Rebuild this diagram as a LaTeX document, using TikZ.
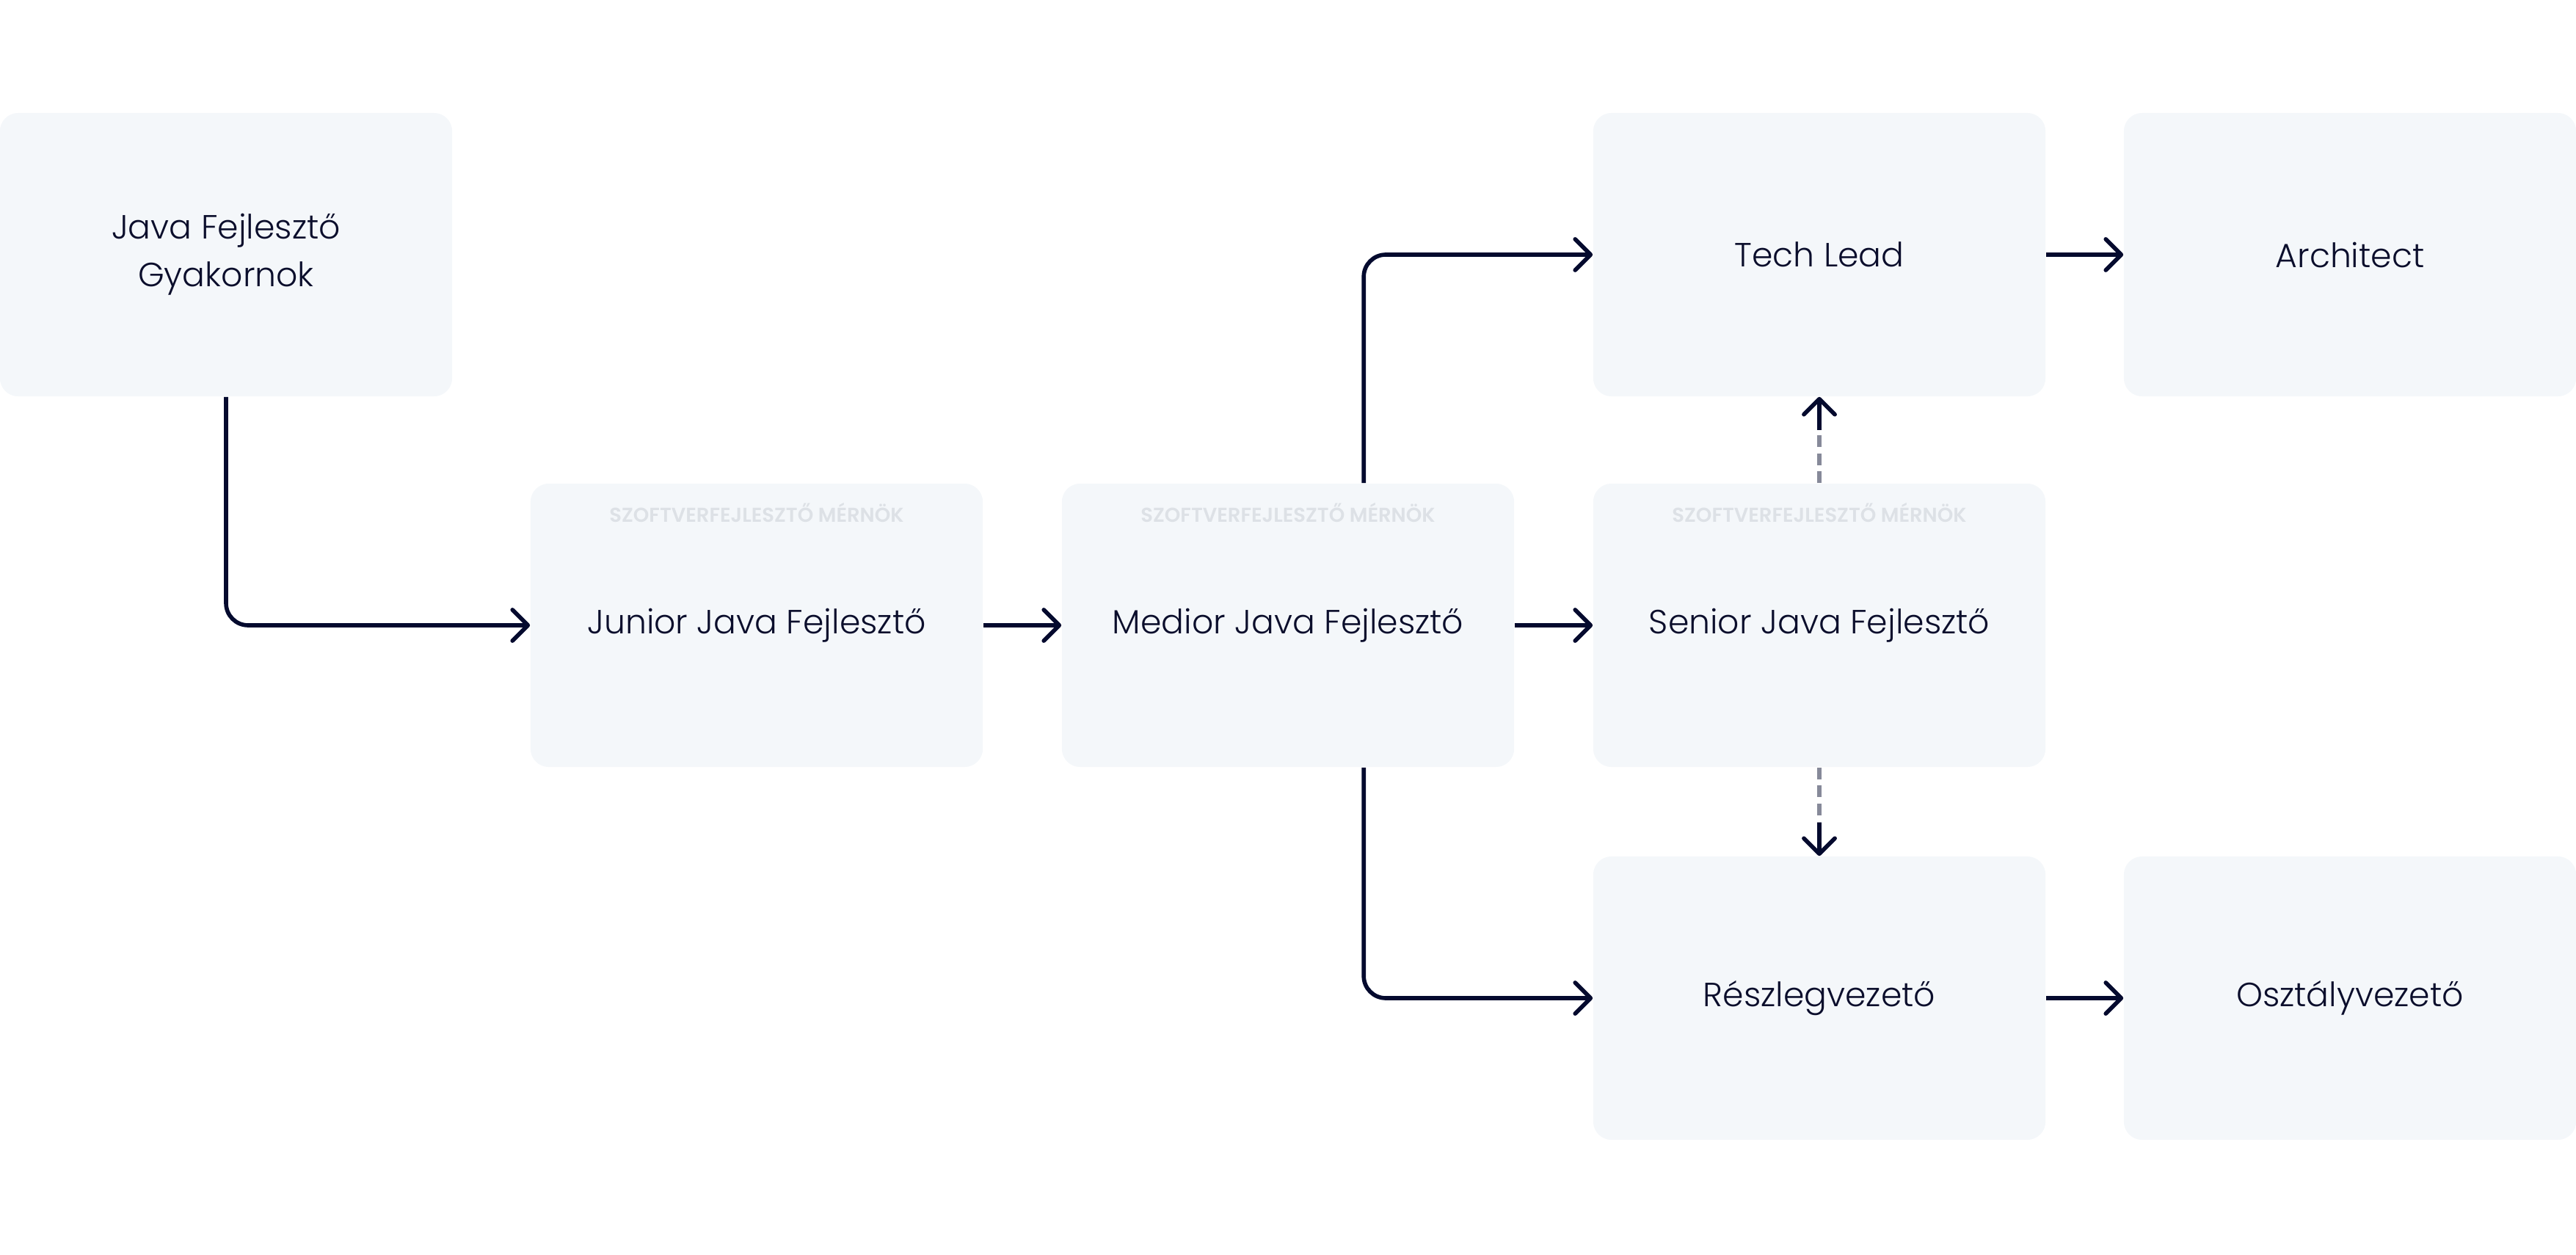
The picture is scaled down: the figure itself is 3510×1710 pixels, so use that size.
\documentclass[tikz,border=0pt]{standalone}
\usepackage{fontspec}
\setmainfont{Poppins}[UprightFont=* Light, BoldFont=* SemiBold]
\usetikzlibrary{arrows.meta,calc}
\definecolor{boxfill}{HTML}{F4F7FA}
\definecolor{ink}{HTML}{0B0E2C}
\definecolor{arrowc}{HTML}{040A2E}
\definecolor{tagc}{HTML}{DDE1E6}
\definecolor{dashc}{HTML}{868999}
\tikzset{
  role/.style={rectangle, rounded corners=0.25cm, fill=boxfill, minimum width=6.16cm, minimum height=3.86cm, inner sep=0pt, text=ink, font=\fontsize{13}{18.5}\selectfont, align=center},
  tag/.style={text=tagc, font=\bfseries\fontsize{7.8}{9}\selectfont, inner sep=0pt},
  flow/.style={draw=arrowc, line width=1.6pt, rounded corners=0.3cm, -{Straight Barb[length=6pt,width=12pt,round]}},
  dashflow/.style={draw=dashc, line width=1.5pt, dash pattern=on 4.5pt off 2.5pt},
}
\begin{document}
\begin{tikzpicture}[x=0.01cm,y=-0.01cm]
\useasboundingbox (0,0) rectangle (3510,1710);
\node[role] (gyak) at (308,347) {Java Fejlesztő\\Gyakornok};
\node[role] (junior) at (1031,852) {Junior Java Fejlesztő};
\node[role] (medior) at (1755,852) {Medior Java Fejlesztő};
\node[role] (senior) at (2479,852) {Senior Java Fejlesztő};
\node[role] (tech) at (2479,347) {Tech Lead};
\node[role] (arch) at (3202,347) {Architect};
\node[role] (reszleg) at (2479,1360) {Részlegvezető};
\node[role] (osztaly) at (3202,1360) {Osztályvezető};
\node[tag] (tagj) at ($(junior.north)+(0,40)$) {SZOFTVERFEJLESZTŐ MÉRNÖK};
\node[tag] (tagm) at ($(medior.north)+(0,40)$) {SZOFTVERFEJLESZTŐ MÉRNÖK};
\node[tag] (tags) at ($(senior.north)+(0,40)$) {SZOFTVERFEJLESZTŐ MÉRNÖK};
\coordinate (mt) at ($(medior.north west)!0.667!(medior.north east)$);
\coordinate (mb) at ($(medior.south west)!0.667!(medior.south east)$);
\coordinate (up) at ($(tech.south)+(0,45)$);
\coordinate (dn) at ($(reszleg.north)+(0,-45)$);
\draw[flow] (gyak.south) |- (junior.west);
\draw[flow] (junior.east) -- (medior.west);
\draw[flow] (medior.east) -- (senior.west);
\draw[flow] (mt) |- (tech.west);
\draw[flow] (mb) |- (reszleg.west);
\draw[flow] (tech.east) -- (arch.west);
\draw[flow] (reszleg.east) -- (osztaly.west);
\draw[dashflow] (senior.north) -- (up);
\draw[flow] (up) -- (tech.south);
\draw[dashflow] (senior.south) -- (dn);
\draw[flow] (dn) -- (reszleg.north);
\end{tikzpicture}
\end{document}
